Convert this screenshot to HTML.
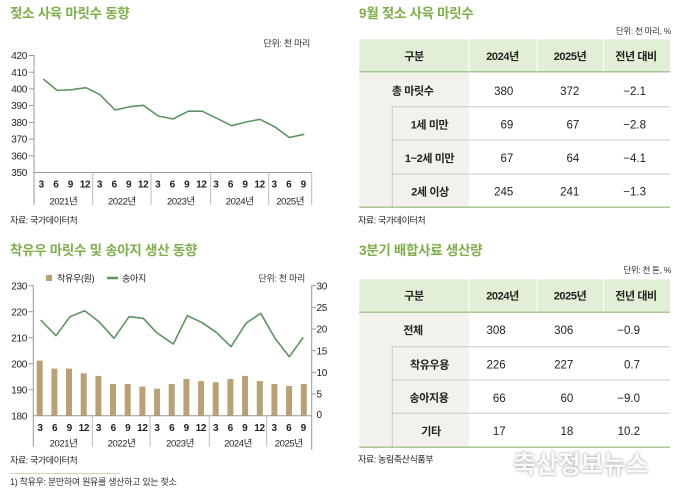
<!DOCTYPE html>
<html>
<head>
<meta charset="utf-8">
<style>
  html,body{margin:0;padding:0;background:#fff;}
  body{width:680px;height:493px;position:relative;overflow:hidden;}
  svg{position:absolute;left:0;top:0;}
  text{font-family:"Liberation Sans","Noto Sans CJK KR",sans-serif;}
  .wm{position:absolute;left:513px;top:445px;font-family:"Liberation Sans","Noto Sans CJK KR",sans-serif;font-weight:bold;font-size:25px;letter-spacing:-0.5px;color:rgba(255,255,255,0.95);text-shadow:0 0 3px rgba(0,0,0,0.35),0 0 1px rgba(0,0,0,0.25);white-space:nowrap;}
</style>
</head>
<body>
<svg width="680" height="493" viewBox="0 0 680 493" xmlns="http://www.w3.org/2000/svg">
  <!-- ================= TOP LEFT CHART ================= -->
  <text x="10" y="18" font-size="13.5" font-weight="bold" fill="#7eb04a" letter-spacing="-0.3">젖소 사육 마릿수 동향</text>
  <text x="310" y="46.5" font-size="9" fill="#333" text-anchor="end" letter-spacing="-0.3">단위: 천 마리</text>

  <g font-size="10" fill="#222" text-anchor="end" letter-spacing="-0.3">
    <text x="27" y="59.1">420</text>
    <text x="27" y="75.8">410</text>
    <text x="27" y="92.5">400</text>
    <text x="27" y="109.2">390</text>
    <text x="27" y="126">380</text>
    <text x="27" y="142.7">370</text>
    <text x="27" y="159.4">360</text>
    <text x="27" y="176.1">350</text>
  </g>
  <g stroke="#999" stroke-width="1" fill="none">
    <line x1="29" y1="55.5" x2="34" y2="55.5"/>
    <line x1="29" y1="72.2" x2="34" y2="72.2"/>
    <line x1="29" y1="88.9" x2="34" y2="88.9"/>
    <line x1="29" y1="105.6" x2="34" y2="105.6"/>
    <line x1="29" y1="122.4" x2="34" y2="122.4"/>
    <line x1="29" y1="139.1" x2="34" y2="139.1"/>
    <line x1="29" y1="155.8" x2="34" y2="155.8"/>
    <line x1="34" y1="55" x2="34" y2="205"/>
    <line x1="34" y1="172.5" x2="311.7" y2="172.5"/>
  </g>
  <g stroke="#bbb" stroke-width="1">
    <line x1="92.7" y1="172.5" x2="92.7" y2="205"/>
    <line x1="151" y1="172.5" x2="151" y2="205"/>
    <line x1="210.7" y1="172.5" x2="210.7" y2="205"/>
    <line x1="268.7" y1="172.5" x2="268.7" y2="205"/>
    <line x1="311.7" y1="172.5" x2="311.7" y2="205"/>
  </g>
  <polyline fill="none" stroke="#5e9460" stroke-width="1.6" stroke-linejoin="round"
    points="43.3,79 57.3,90.5 71.7,89.7 86,87.7 100,94.7 115,110 130,106.7 143.3,105.3 158.3,116 173,119 188.3,111.2 202.3,111.2 216.7,118.3 231.7,125.7 246,122 260,119.3 275,127 289.3,137.5 304.3,134.3"/>
  <g font-size="10" font-weight="bold" fill="#222" text-anchor="middle" letter-spacing="-0.3">
    <text x="41.3" y="187.6">3</text><text x="55.9" y="187.6">6</text><text x="70.4" y="187.6">9</text><text x="85" y="187.6">12</text>
    <text x="99.5" y="187.6">3</text><text x="114.1" y="187.6">6</text><text x="128.6" y="187.6">9</text><text x="143.2" y="187.6">12</text>
    <text x="157.7" y="187.6">3</text><text x="172.3" y="187.6">6</text><text x="186.8" y="187.6">9</text><text x="201.4" y="187.6">12</text>
    <text x="215.9" y="187.6">3</text><text x="230.5" y="187.6">6</text><text x="245" y="187.6">9</text><text x="259.6" y="187.6">12</text>
    <text x="274.1" y="187.6">3</text><text x="288.7" y="187.6">6</text><text x="303.2" y="187.6">9</text>
  </g>
  <g font-size="9.5" fill="#222" text-anchor="middle" letter-spacing="-0.4">
    <text x="63.4" y="204.3">2021년</text>
    <text x="121.9" y="204.3">2022년</text>
    <text x="180.9" y="204.3">2023년</text>
    <text x="239.7" y="204.3">2024년</text>
    <text x="290.2" y="204.3">2025년</text>
  </g>
  <text x="10" y="223.3" font-size="9" fill="#222" letter-spacing="-0.4">자료: 국가데이터처</text>

  <!-- ================= BOTTOM LEFT CHART ================= -->
  <text x="10" y="255" font-size="13.5" font-weight="bold" fill="#7eb04a" letter-spacing="-0.3">착유우 마릿수 및 송아지 생산 동향</text>
  <rect x="46" y="275" width="6" height="6" fill="#b9a075"/>
  <text x="57" y="281.3" font-size="9" fill="#222" letter-spacing="-0.3">착유우(원)</text>
  <line x1="107" y1="278" x2="118" y2="278" stroke="#5e9460" stroke-width="2.5"/>
  <text x="122" y="281.3" font-size="9" fill="#222" letter-spacing="-0.3">송아지</text>
  <text x="305" y="281.3" font-size="9" fill="#333" text-anchor="end" letter-spacing="-0.3">단위: 천 마리</text>

  <g font-size="10" fill="#222" text-anchor="end" letter-spacing="-0.3">
    <text x="27" y="289.3">230</text>
    <text x="27" y="315.3">220</text>
    <text x="27" y="341.3">210</text>
    <text x="27" y="367.3">200</text>
    <text x="27" y="393.3">190</text>
    <text x="27" y="419.3">180</text>
  </g>
  <g font-size="10" fill="#222" text-anchor="start" letter-spacing="-0.3">
    <text x="316.5" y="289.3">30</text>
    <text x="316.5" y="311">25</text>
    <text x="316.5" y="332.6">20</text>
    <text x="316.5" y="354.3">15</text>
    <text x="316.5" y="376">10</text>
    <text x="316.5" y="397.6">5</text>
    <text x="316.5" y="418">0</text>
  </g>
  <g fill="#b9a075">
    <rect x="36.7" y="360.6" width="6" height="55.1"/>
    <rect x="51.4" y="368.6" width="6" height="47.1"/>
    <rect x="66" y="368.6" width="6" height="47.1"/>
    <rect x="80.7" y="373.3" width="6" height="42.4"/>
    <rect x="95.4" y="375.9" width="6" height="39.8"/>
    <rect x="110" y="384" width="6" height="31.7"/>
    <rect x="124.7" y="384" width="6" height="31.7"/>
    <rect x="139.4" y="386.6" width="6" height="29.1"/>
    <rect x="154.1" y="388.7" width="6" height="27"/>
    <rect x="168.7" y="384" width="6" height="31.7"/>
    <rect x="183.4" y="379" width="6" height="36.7"/>
    <rect x="198.1" y="381.1" width="6" height="34.6"/>
    <rect x="212.7" y="382.2" width="6" height="33.5"/>
    <rect x="227.4" y="379" width="6" height="36.7"/>
    <rect x="242.1" y="375.9" width="6" height="39.8"/>
    <rect x="256.8" y="381.1" width="6" height="34.6"/>
    <rect x="271.4" y="384" width="6" height="31.7"/>
    <rect x="286.1" y="386" width="6" height="29.7"/>
    <rect x="300.8" y="384" width="6" height="31.7"/>
  </g>
  <g stroke="#999" stroke-width="1" fill="none">
    <line x1="28.5" y1="285.7" x2="33.3" y2="285.7"/>
    <line x1="28.5" y1="311.7" x2="33.3" y2="311.7"/>
    <line x1="28.5" y1="337.7" x2="33.3" y2="337.7"/>
    <line x1="28.5" y1="363.7" x2="33.3" y2="363.7"/>
    <line x1="28.5" y1="389.7" x2="33.3" y2="389.7"/>
    <line x1="33.3" y1="285.2" x2="33.3" y2="447"/>
    <line x1="33.3" y1="415.7" x2="311.7" y2="415.7"/>
    <line x1="311.7" y1="285.2" x2="311.7" y2="450"/>
    <line x1="311.7" y1="285.7" x2="316" y2="285.7"/>
    <line x1="311.7" y1="307.4" x2="316" y2="307.4"/>
    <line x1="311.7" y1="329" x2="316" y2="329"/>
    <line x1="311.7" y1="350.7" x2="316" y2="350.7"/>
    <line x1="311.7" y1="372.4" x2="316" y2="372.4"/>
    <line x1="311.7" y1="394" x2="316" y2="394"/>
  </g>
  <g stroke="#bbb" stroke-width="1">
    <line x1="92.3" y1="415.7" x2="92.3" y2="447"/>
    <line x1="150" y1="415.7" x2="150" y2="447"/>
    <line x1="209.3" y1="415.7" x2="209.3" y2="447"/>
    <line x1="266.7" y1="415.7" x2="266.7" y2="447"/>
  </g>
  <polyline fill="none" stroke="#5e9460" stroke-width="1.6" stroke-linejoin="round"
    points="40.7,320 56,335.7 70,316.7 84.7,310.7 99,321.7 114,338.3 129,316.7 143.3,318.3 156.7,332.7 173.3,344 187.3,315.7 202.3,322.7 216.7,332.7 231,346.7 246,323.3 260.7,313.3 275,338.3 289.3,356.7 303.3,337.3"/>
  <g font-size="10" font-weight="bold" fill="#222" text-anchor="middle" letter-spacing="-0.3">
    <text x="40" y="430.9">3</text><text x="54.6" y="430.9">6</text><text x="69.3" y="430.9">9</text><text x="83.9" y="430.9">12</text>
    <text x="98.5" y="430.9">3</text><text x="113.2" y="430.9">6</text><text x="127.8" y="430.9">9</text><text x="142.4" y="430.9">12</text>
    <text x="157" y="430.9">3</text><text x="171.7" y="430.9">6</text><text x="186.3" y="430.9">9</text><text x="200.9" y="430.9">12</text>
    <text x="215.6" y="430.9">3</text><text x="230.2" y="430.9">6</text><text x="244.8" y="430.9">9</text><text x="259.5" y="430.9">12</text>
    <text x="274.1" y="430.9">3</text><text x="288.7" y="430.9">6</text><text x="303.3" y="430.9">9</text>
  </g>
  <g font-size="9.5" fill="#222" text-anchor="middle" letter-spacing="-0.4">
    <text x="63.5" y="446.6">2021년</text>
    <text x="121.5" y="446.6">2022년</text>
    <text x="180" y="446.6">2023년</text>
    <text x="238" y="446.6">2024년</text>
    <text x="288.7" y="446.6">2025년</text>
  </g>
  <text x="10" y="463.3" font-size="9" fill="#222" letter-spacing="-0.4">자료: 국가데이터처</text>
  <line x1="10" y1="473.5" x2="120" y2="473.5" stroke="#d8d3b8" stroke-width="1"/>
  <text x="10" y="485.2" font-size="9" fill="#333" letter-spacing="-0.3">1) 착유우: 분만하여 원유를 생산하고 있는 젖소</text>

  <!-- ================= TOP RIGHT TABLE ================= -->
  <text x="359" y="18" font-size="13.5" font-weight="bold" fill="#7eb04a" letter-spacing="-0.3">9월 젖소 사육 마릿수</text>
  <text x="671" y="33.9" font-size="8.5" fill="#333" text-anchor="end" letter-spacing="-0.3">단위: 천 마리, %</text>
  <rect x="359.3" y="39.3" width="310.7" height="32.4" fill="#e3eed7"/>
  <g stroke="#fff" stroke-width="1">
    <line x1="469" y1="39.3" x2="469" y2="71.7"/>
    <line x1="537" y1="39.3" x2="537" y2="71.7"/>
    <line x1="603.5" y1="39.3" x2="603.5" y2="71.7"/>
  </g>
  <rect x="359.3" y="71.7" width="109.7" height="135.6" fill="#f2f1ec"/>
  <line x1="359.3" y1="71.7" x2="670" y2="71.7" stroke="#a9c894" stroke-width="1.5"/>
  <g stroke="#c9c9c9" stroke-width="1">
    <line x1="392.3" y1="106.7" x2="392.3" y2="207.3"/>
    <line x1="392.3" y1="106.7" x2="670" y2="106.7"/>
    <line x1="392.3" y1="140" x2="670" y2="140"/>
    <line x1="392.3" y1="174" x2="670" y2="174"/>
  </g>
  <line x1="359.3" y1="207.3" x2="670" y2="207.3" stroke="#a9c894" stroke-width="1.5"/>
  <g font-size="11" font-weight="bold" fill="#222" text-anchor="middle" letter-spacing="-0.4">
    <text x="414" y="60">구분</text>
    <text x="502.5" y="60">2024년</text>
    <text x="570" y="60">2025년</text>
    <text x="636" y="60">전년 대비</text>
    <text x="412.7" y="94.7">총 마릿수</text>
    <text x="429.5" y="128.5">1세 미만</text>
    <text x="429.5" y="162">1~2세 미만</text>
    <text x="430" y="195.5">2세 이상</text>
  </g>
  <g font-size="11.5" fill="#222" text-anchor="end">
    <text x="513.3" y="94.9">380</text><text x="579.3" y="94.9">372</text><text x="646" y="94.9">−2.1</text>
    <text x="513.3" y="128.7">69</text><text x="579.3" y="128.7">67</text><text x="646" y="128.7">−2.8</text>
    <text x="513.3" y="162.2">67</text><text x="579.3" y="162.2">64</text><text x="646" y="162.2">−4.1</text>
    <text x="513.3" y="195.7">245</text><text x="579.3" y="195.7">241</text><text x="646" y="195.7">−1.3</text>
  </g>
  <text x="358" y="223.3" font-size="9" fill="#222" letter-spacing="-0.4">자료: 국가데이터처</text>

  <!-- ================= BOTTOM RIGHT TABLE ================= -->
  <text x="359" y="255" font-size="13.5" font-weight="bold" fill="#7eb04a" letter-spacing="-0.3">3분기 배합사료 생산량</text>
  <text x="671" y="273.2" font-size="8.5" fill="#333" text-anchor="end" letter-spacing="-0.3">단위: 천 톤, %</text>
  <rect x="359.3" y="279.3" width="310.7" height="33" fill="#e3eed7"/>
  <g stroke="#fff" stroke-width="1">
    <line x1="469" y1="279.3" x2="469" y2="312.3"/>
    <line x1="537" y1="279.3" x2="537" y2="312.3"/>
    <line x1="603.5" y1="279.3" x2="603.5" y2="312.3"/>
  </g>
  <rect x="359.3" y="312.3" width="109.7" height="135" fill="#f2f1ec"/>
  <line x1="359.3" y1="312.3" x2="670" y2="312.3" stroke="#a9c894" stroke-width="1.5"/>
  <g stroke="#c9c9c9" stroke-width="1">
    <line x1="392.3" y1="346.7" x2="392.3" y2="447.3"/>
    <line x1="392.3" y1="346.7" x2="670" y2="346.7"/>
    <line x1="392.3" y1="380" x2="670" y2="380"/>
    <line x1="392.3" y1="413.3" x2="670" y2="413.3"/>
  </g>
  <line x1="359.3" y1="447.3" x2="670" y2="447.3" stroke="#a9c894" stroke-width="1.5"/>
  <g font-size="11" font-weight="bold" fill="#222" text-anchor="middle" letter-spacing="-0.4">
    <text x="414" y="299.7">구분</text>
    <text x="502.5" y="299.7">2024년</text>
    <text x="570" y="299.7">2025년</text>
    <text x="636" y="299.7">전년 대비</text>
    <text x="413" y="334">전체</text>
    <text x="429.5" y="368.3">착유우용</text>
    <text x="429" y="401.7">송아지용</text>
    <text x="431" y="435">기타</text>
  </g>
  <g font-size="11.5" fill="#222" text-anchor="end">
    <text x="505.7" y="334.2">308</text><text x="573.3" y="334.2">306</text><text x="640" y="334.2">−0.9</text>
    <text x="505.7" y="368.5">226</text><text x="573.3" y="368.5">227</text><text x="640" y="368.5">0.7</text>
    <text x="505.7" y="401.9">66</text><text x="573.3" y="401.9">60</text><text x="640" y="401.9">−9.0</text>
    <text x="505.7" y="435.2">17</text><text x="573.3" y="435.2">18</text><text x="640" y="435.2">10.2</text>
  </g>
  <text x="358" y="462.6" font-size="9" fill="#222" letter-spacing="-0.4">자료: 농림축산식품부</text>
</svg>
<div class="wm">축산정보뉴스</div>
</body>
</html>
